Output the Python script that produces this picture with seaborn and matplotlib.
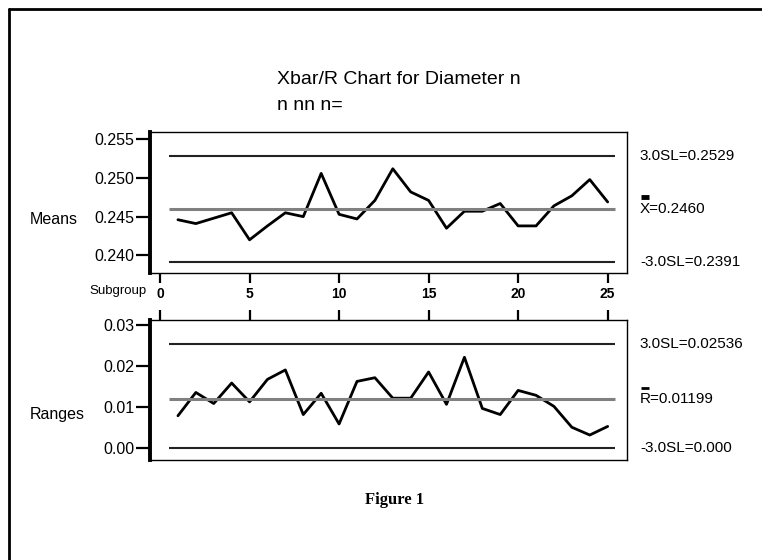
import numpy as np
import matplotlib
matplotlib.use('Agg')
import matplotlib.pyplot as plt
import matplotlib.transforms as mtransforms
from matplotlib.lines import Line2D
import seaborn as sns

# Data
subgroup = list(range(1, 26))
means = [0.2446, 0.2441, 0.2448, 0.2455, 0.2420, 0.2438, 0.2455, 0.2450, 0.2506, 0.2453,
         0.2447, 0.2471, 0.2512, 0.2482, 0.2471, 0.2435, 0.2457, 0.2457, 0.2467, 0.2438,
         0.2438, 0.2464, 0.2477, 0.2498, 0.2469]
ranges = [0.0078, 0.0135, 0.0108, 0.0158, 0.0112, 0.0167, 0.0190, 0.0081, 0.0133, 0.0058,
          0.0162, 0.0171, 0.0121, 0.0121, 0.0185, 0.0106, 0.0221, 0.0096, 0.0081, 0.0140,
          0.0128, 0.0101, 0.0050, 0.0031, 0.0052]

# control limits (UCL, center, LCL)
means_limits = [0.2529, 0.2460, 0.2391]
ranges_limits = [0.02536, 0.01199, 0.000]
means_limit_labels = ['3.0SL=0.2529', 'X=0.2460', '-3.0SL=0.2391']
ranges_limit_labels = ['3.0SL=0.02536', 'R=0.01199', '-3.0SL=0.000']

means_ticks = [0.240, 0.245, 0.250, 0.255]
means_ticklabels = ['0.240', '0.245', '0.250', '0.255']
ranges_ticks = [0.00, 0.01, 0.02, 0.03]
ranges_ticklabels = ['0.00', '0.01', '0.02', '0.03']
x_ticks = [0, 5, 10, 15, 20, 25]

sns.set_style('white')
plt.rcParams['font.family'] = ['Liberation Sans', 'DejaVu Sans']
plt.rcParams['text.color'] = 'black'
plt.rcParams['xtick.color'] = 'black'
plt.rcParams['ytick.color'] = 'black'
plt.rcParams['axes.labelcolor'] = 'black'

W, H = 762, 560
fig = plt.figure(figsize=(W / 100, H / 100), dpi=100)
ax1 = fig.add_axes([150 / W, 1 - 273 / H, 477 / W, 141.3 / H])
ax2 = fig.add_axes([150 / W, 1 - 460 / H, 477 / W, 140 / H])

sns.lineplot(x=subgroup, y=means, ax=ax1, color='black', linewidth=2.0)
sns.lineplot(x=subgroup, y=ranges, ax=ax2, color='black', linewidth=2.0)

for ax, limits, labels, bar_up, bar_w in [(ax1, means_limits, means_limit_labels, 12, 3.5),
                                          (ax2, ranges_limits, ranges_limit_labels, 11, 2.0)]:
    ax.hlines(limits[0], 0.5, 25.4, color='#222222', linewidth=1.5)
    ax.hlines(limits[1], 0.5, 25.4, color='#808080', linewidth=2.2)
    ax.hlines(limits[2], 0.5, 25.4, color='#222222', linewidth=1.5)
    trans = mtransforms.blended_transform_factory(ax.transAxes, ax.transData)
    for val, lab in zip(limits, labels):
        ax.text(1.027, val, lab, transform=trans, va='center', ha='left', fontsize=11)
    # bar over X / R
    bar_trans = trans + mtransforms.ScaledTranslation(0, bar_up / 100, fig.dpi_scale_trans)
    ax.add_line(Line2D([1.029, 1.047], [limits[1], limits[1]], transform=bar_trans,
                       color='black', linewidth=bar_w, clip_on=False,
                       solid_capstyle='butt'))
    ax.set_xlim(-0.56, 26.08)
    for side in ['top', 'right', 'bottom']:
        ax.spines[side].set_linewidth(1.0)
        ax.spines[side].set_color('black')
    ax.spines['left'].set_linewidth(2.8)
    ax.spines['left'].set_color('black')
    ax.tick_params(axis='y', direction='out', length=10, width=1.6, pad=1,
                   labelsize=11.5, left=True)
    ax.set_xlabel('')
    ax.set_ylabel('')

ax1.set_ylim(0.2377, 0.2560)
ax1.set_yticks(means_ticks)
ax1.set_yticklabels(means_ticklabels)
ax1.set_xticks(x_ticks)
ax1.set_xticklabels([str(t) for t in x_ticks], fontweight='bold')
ax1.tick_params(axis='x', direction='out', length=7, width=1.6, labelsize=10,
                bottom=True, top=False, pad=3)

ax2.set_ylim(-0.0030, 0.0312)
ax2.set_yticks(ranges_ticks)
ax2.set_yticklabels(ranges_ticklabels)
ax2.set_xticks(x_ticks)
ax2.tick_params(axis='x', direction='out', length=7, width=1.6,
                bottom=False, top=True, labelbottom=False, labeltop=False)

# texts
fig.text(277 / W, 1 - 80 / H, 'Xbar/R Chart for Diameter n', fontsize=14,
         ha='left', va='center')
fig.text(277 / W, 1 - 105 / H, 'n nn n=', fontsize=14, ha='left', va='center')
fig.text(30 / W, 1 - 220 / H, 'Means', fontsize=11.5, ha='left', va='center')
fig.text(30 / W, 1 - 415 / H, 'Ranges', fontsize=11.5, ha='left', va='center')
fig.text(147 / W, 1 - 291 / H, 'Subgroup', fontsize=9.5, ha='right', va='center')
fig.text(395 / W, 1 - 500 / H, 'Figure 1', fontsize=12, fontweight='bold',
         family='Liberation Serif', ha='center', va='center')

# page frame (left and top edges)
fig.add_artist(Line2D([9 / W, 9 / W], [0, 1 - 9 / H], transform=fig.transFigure,
                      color='black', linewidth=2))
fig.add_artist(Line2D([9 / W, 1], [1 - 9 / H, 1 - 9 / H], transform=fig.transFigure,
                      color='black', linewidth=2))

fig.savefig('out.png', dpi=100)
